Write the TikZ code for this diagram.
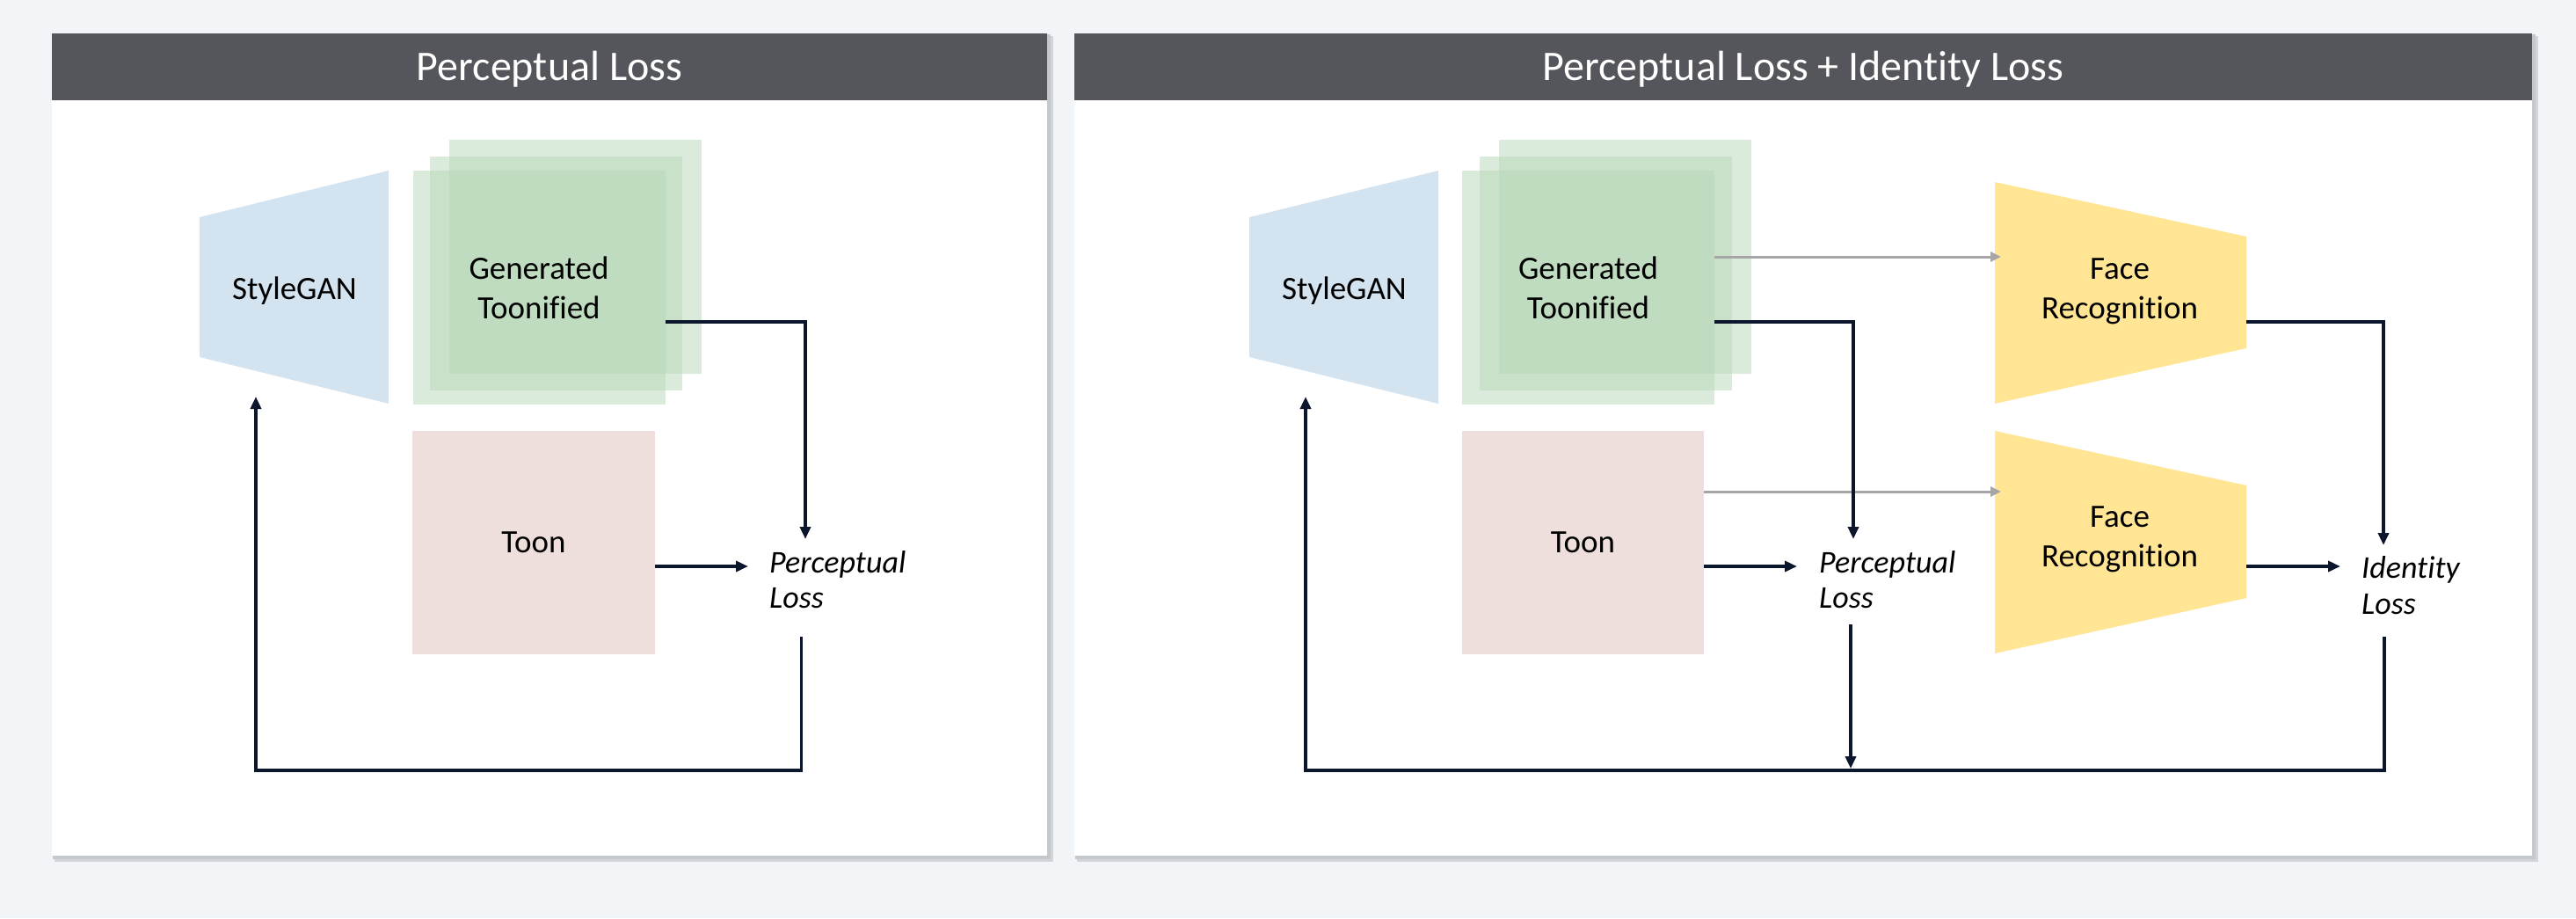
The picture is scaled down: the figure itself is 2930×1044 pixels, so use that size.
\documentclass[tikz,border=0pt]{standalone}
\usepackage{fontspec}
\setmainfont{Carlito}[Ligatures=CommonOff]
\usetikzlibrary{arrows.meta}
\definecolor{bg}{RGB}{241,245,248}
\definecolor{bar}{RGB}{85,86,91}
\definecolor{sgblue}{RGB}{211,227,240}
\definecolor{gengreen}{RGB}{185,216,185}
\definecolor{toonpink}{RGB}{238,223,221}
\definecolor{faceyellow}{RGB}{255,229,148}
\definecolor{navy}{RGB}{12,22,44}
\definecolor{arrowgray}{RGB}{166,166,166}
\definecolor{shadowc}{RGB}{210,214,218}
\definecolor{shadowd}{RGB}{196,200,204}
\tikzset{
  titletext/.style={text=white, font=\fontsize{48}{58}\selectfont, anchor=base, inner sep=0pt},
  lbl/.style={font=\fontsize{37}{45}\selectfont, align=center, inner sep=0pt},
  genbox/.style={fill=gengreen, fill opacity=0.5, text opacity=1, draw=none, minimum width=287pt, minimum height=266pt, inner sep=0pt, font=\fontsize{37}{45}\selectfont, align=center},
  toonbox/.style={fill=toonpink, draw=none, minimum width=276pt, minimum height=254pt, inner sep=0pt, font=\fontsize{37}{45}\selectfont},
  losstext/.style={font=\fontsize{36}{40.5}\selectfont\itshape, align=left, inner sep=0pt, anchor=west},
  conn/.style={draw=navy, line width=3.5pt, -{Triangle[length=14pt,width=12pt]}},
  grayconn/.style={draw=arrowgray, line width=3pt, -{Triangle[length=12pt,width=11pt]}},
}
\begin{document}
\begin{tikzpicture}[x=1pt,y=-1pt]
\useasboundingbox (0,0) rectangle (2930,1044);
\fill[bg] (0,0) rectangle (2930,1044);
% panels
\fill[shadowc] (62,41) rectangle (1198,980);
\fill[shadowd] (60,39) rectangle (1195,977);
\fill[white] (59,38) rectangle (1191,973);
\fill[bar] (59,38) rectangle (1191,114);
\fill[shadowc] (1225,41) rectangle (2887,980);
\fill[shadowd] (1223,39) rectangle (2884,977);
\fill[white] (1222,38) rectangle (2880,973);
\fill[bar] (1222,38) rectangle (2880,114);
\node[titletext] (tL) at (625,91) {Perceptual Loss};
\node[titletext] (tR) at (2051,91) {Perceptual Loss + Identity Loss};

% ---------- left panel ----------
\fill[sgblue] (227,247) -- (442,194) -- (442,459) -- (227,406) -- cycle;
\node[lbl] (sgL) at (335,331) {StyleGAN};
\node[genbox] (gbL) at (654.5,291.5) {};
\node[genbox] (gmL) at (632.5,310.5) {};
\node[genbox] (genL) at (613,327) {Generated\\Toonified};
\node[toonbox] (toonL) at (607,617) {Toon};
\node[losstext] (plL) at (875,659) {Perceptual\\Loss};

\coordinate (plLin) at (916,613);
\coordinate (plLin2) at (851,644);
\coordinate (plLout) at (911.5,724);
\coordinate (loopL) at (291,876);
\coordinate (sgLin) at (291,451);
\draw[conn] ([yshift=-39pt]genL.east) -| (plLin);
\draw[conn] ([yshift=-27pt]toonL.east) -- (plLin2);
\draw[conn] (plLout) |- (loopL) -- (sgLin);

% ---------- right panel ----------
\fill[sgblue] (1421,247) -- (1636,194) -- (1636,459) -- (1421,406) -- cycle;
\node[lbl] (sgR) at (1529,331) {StyleGAN};
\node[genbox] (gbR) at (1848.5,291.5) {};
\node[genbox] (gmR) at (1826.5,310.5) {};
\node[genbox] (genR) at (1806.5,327) {Generated\\Toonified};
\node[toonbox, minimum width=275pt] (toonR) at (1800.5,617) {Toon};
\fill[faceyellow] (2269,207) -- (2555,269) -- (2555,396) -- (2269,459) -- cycle;
\node[lbl] (frT) at (2411,331) {Face\\Recognition};
\fill[faceyellow] (2269,490) -- (2555,552) -- (2555,680) -- (2269,743) -- cycle;
\node[lbl] (frB) at (2411,613) {Face\\Recognition};
\node[losstext] (plR) at (2069,659) {Perceptual\\Loss};
\node[losstext] (idR) at (2686,665.5) {Identity\\Loss};

\coordinate (frTin) at (2276,292);
\coordinate (frBin) at (2276,559);
\coordinate (plRin) at (2108,613);
\coordinate (plRin2) at (2044,644);
\coordinate (frTout) at (2555,366);
\coordinate (idRin) at (2711,620);
\coordinate (frBout) at (2555,644);
\coordinate (idRin2) at (2662,644);
\coordinate (plRout) at (2105,710);
\coordinate (plRdown) at (2105,874);
\coordinate (idRout) at (2712,724);
\coordinate (loopR) at (1485,876);
\coordinate (sgRin) at (1485,451);

\draw[grayconn] ([yshift=35pt]genR.east) -- (frTin);
\draw[grayconn] ([yshift=58pt]toonR.east) -- (frBin);
\draw[conn] ([yshift=-39pt]genR.east) -| (plRin);
\draw[conn] ([yshift=-27pt]toonR.east) -- (plRin2);
\draw[conn] (frTout) -| (idRin);
\draw[conn] (frBout) -- (idRin2);
\draw[conn] (plRout) -- (plRdown);
\draw[conn] (idRout) |- (loopR) -- (sgRin);
\end{tikzpicture}
\end{document}
